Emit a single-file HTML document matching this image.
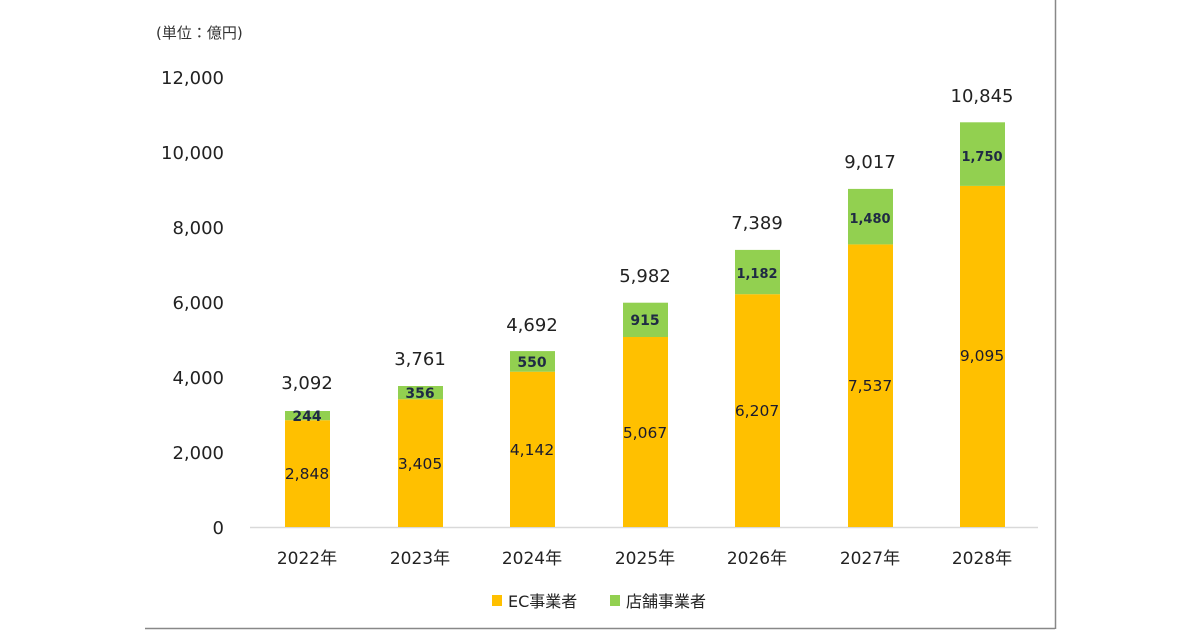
<!DOCTYPE html>
<html><head><meta charset="utf-8"><style>
body{margin:0;background:#fff}
svg{display:block;font-family:"DejaVu Sans","Noto Sans CJK JP",sans-serif}
</style></head><body>
<svg width="1200" height="630" viewBox="0 0 1200 630">
<rect width="1200" height="630" fill="#fff"/>
<line x1="145" y1="628.5" x2="1055" y2="628.5" stroke="#888" stroke-width="1.5"/>
<line x1="1055.5" y1="0" x2="1055.5" y2="629" stroke="#888" stroke-width="1.5"/>
<text x="156" y="38" font-size="15" fill="#333">(単位：億円)</text>
<g font-size="18" fill="#222" text-anchor="end">
<text x="224" y="84">12,000</text>
<text x="224" y="159">10,000</text>
<text x="224" y="234">8,000</text>
<text x="224" y="309">6,000</text>
<text x="224" y="384">4,000</text>
<text x="224" y="459">2,000</text>
<text x="224" y="534">0</text>
</g>
<line x1="250" y1="527.5" x2="1038" y2="527.5" stroke="#d9d9d9" stroke-width="1.5"/>
<g font-size="17" fill="#222" text-anchor="middle">
<text x="307" y="564">2022年</text><text x="420" y="564">2023年</text><text x="532" y="564">2024年</text><text x="645" y="564">2025年</text><text x="757" y="564">2026年</text><text x="870" y="564">2027年</text><text x="982" y="564">2028年</text>
</g>
<rect x="492" y="595" width="10" height="11" fill="#FFC000"/>
<text x="508" y="607" font-size="16" fill="#222">EC事業者</text>
<rect x="610" y="595" width="10" height="11" fill="#92D050"/>
<text x="626" y="607" font-size="16" fill="#222">店舗事業者</text>
<g>
<rect x="285" y="420.2" width="45" height="106.8" fill="#FFC000"/>
<rect x="285" y="411.0" width="45" height="9.2" fill="#92D050"/>
<text x="307" y="479" font-size="15.5" text-anchor="middle" fill="#1a1a2e">2,848</text>
<text x="307" y="421" font-size="14" font-weight="bold" text-anchor="middle" fill="#1f2a44">244</text>
<text x="307" y="389" font-size="18" text-anchor="middle" fill="#222">3,092</text>
<rect x="398" y="399.3" width="45" height="127.7" fill="#FFC000"/>
<rect x="398" y="386.0" width="45" height="13.3" fill="#92D050"/>
<text x="420" y="469" font-size="15.5" text-anchor="middle" fill="#1a1a2e">3,405</text>
<text x="420" y="398" font-size="14" font-weight="bold" text-anchor="middle" fill="#1f2a44">356</text>
<text x="420" y="365" font-size="18" text-anchor="middle" fill="#222">3,761</text>
<rect x="510" y="371.7" width="45" height="155.3" fill="#FFC000"/>
<rect x="510" y="351.1" width="45" height="20.6" fill="#92D050"/>
<text x="532" y="455" font-size="15.5" text-anchor="middle" fill="#1a1a2e">4,142</text>
<text x="532" y="367" font-size="14" font-weight="bold" text-anchor="middle" fill="#1f2a44">550</text>
<text x="532" y="331" font-size="18" text-anchor="middle" fill="#222">4,692</text>
<rect x="623" y="337.0" width="45" height="190.0" fill="#FFC000"/>
<rect x="623" y="302.7" width="45" height="34.3" fill="#92D050"/>
<text x="645" y="438" font-size="15.5" text-anchor="middle" fill="#1a1a2e">5,067</text>
<text x="645" y="325" font-size="14" font-weight="bold" text-anchor="middle" fill="#1f2a44">915</text>
<text x="645" y="282" font-size="18" text-anchor="middle" fill="#222">5,982</text>
<rect x="735" y="294.2" width="45" height="232.8" fill="#FFC000"/>
<rect x="735" y="249.9" width="45" height="44.3" fill="#92D050"/>
<text x="757" y="416" font-size="15.5" text-anchor="middle" fill="#1a1a2e">6,207</text>
<text x="757" y="278" font-size="13" font-weight="bold" text-anchor="middle" fill="#1f2a44">1,182</text>
<text x="757" y="229" font-size="18" text-anchor="middle" fill="#222">7,389</text>
<rect x="848" y="244.4" width="45" height="282.6" fill="#FFC000"/>
<rect x="848" y="188.9" width="45" height="55.5" fill="#92D050"/>
<text x="870" y="391" font-size="15.5" text-anchor="middle" fill="#1a1a2e">7,537</text>
<text x="870" y="223" font-size="13" font-weight="bold" text-anchor="middle" fill="#1f2a44">1,480</text>
<text x="870" y="168" font-size="18" text-anchor="middle" fill="#222">9,017</text>
<rect x="960" y="185.9" width="45" height="341.1" fill="#FFC000"/>
<rect x="960" y="122.3" width="45" height="63.6" fill="#92D050"/>
<text x="982" y="361" font-size="15.5" text-anchor="middle" fill="#1a1a2e">9,095</text>
<text x="982" y="161" font-size="13" font-weight="bold" text-anchor="middle" fill="#1f2a44">1,750</text>
<text x="982" y="102" font-size="18" text-anchor="middle" fill="#222">10,845</text>
</g>
</svg>
</body></html>
